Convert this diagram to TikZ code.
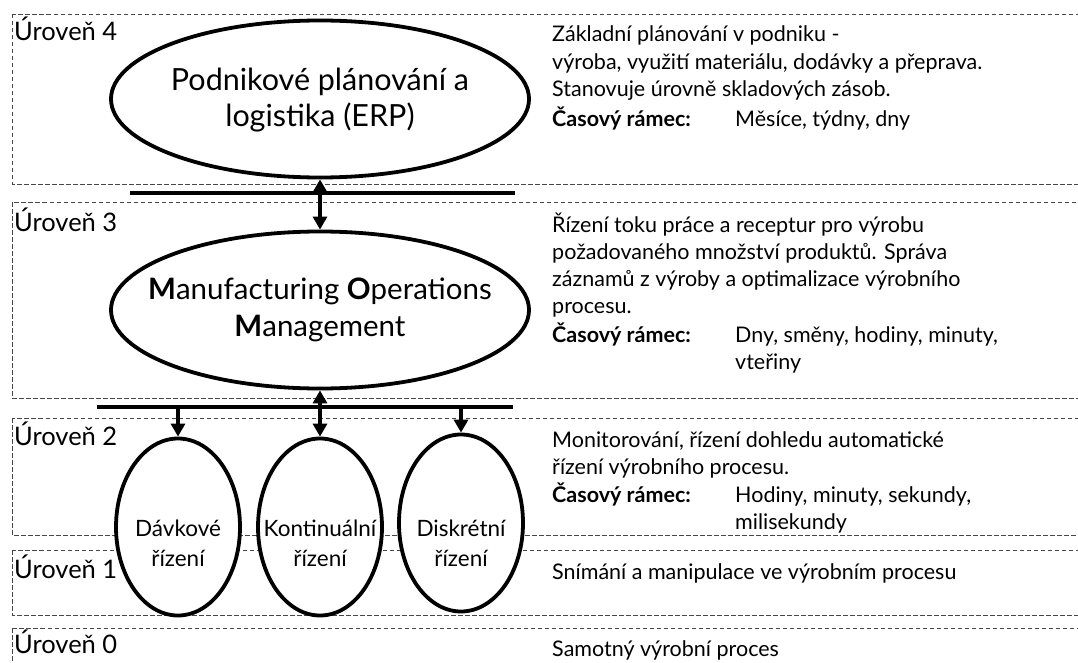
\documentclass[tikz,border=0pt]{standalone}
\usepackage{fontspec}
\setmainfont{Lato}
\usetikzlibrary{arrows.meta,shapes.geometric}
\begin{document}
\begin{tikzpicture}[x=1pt,y=-1pt,
  lvl/.style={draw=black!72, line width=0.9pt, dash pattern=on 4.5pt off 2.5pt},
  oval/.style={ellipse, draw=black, line width=3.8pt, fill=white, inner sep=0pt},
  bar/.style={line width=4.5pt},
  tip/.tip={Triangle[width=14pt,length=13pt]},
  arr/.style={line width=3.2pt, -tip},
  darr/.style={line width=3.2pt, tip-tip},
  lvllabel/.style={anchor=base west, inner sep=0pt, font=\fontsize{25.5}{30}\selectfont},
  bigtext/.style={anchor=base, inner sep=0pt, align=center, font=\fontsize{30.5}{36}\selectfont},
  momtext/.style={anchor=base, inner sep=0pt, align=center, font=\fontsize{29.5}{37}\selectfont},
  smalltext/.style={anchor=base, inner sep=0pt, align=center, font=\fontsize{22.5}{30}\selectfont},
  desc/.style={anchor=base west, inner sep=0pt, align=left, font=\fontsize{21.5}{27.3}\selectfont},
  key/.style={anchor=base west, inner sep=0pt, font=\fontsize{21.5}{27.3}\selectfont\bfseries},
]
\useasboundingbox (0,0) rectangle (1078,663);
\clip (0,0) rectangle (1078,663);

% level frames
\draw[lvl] (12,14) rectangle (1090,184);
\draw[lvl] (12,202) rectangle (1090,398);
\draw[lvl] (12,418) rectangle (1090,535);
\draw[lvl] (12,550) rectangle (1090,615);
\draw[lvl] (12,628) rectangle (1090,690);

% level labels
\node[lvllabel] (l4) at (14,41) {Úroveň 4};
\node[lvllabel] (l3) at (14,231) {Úroveň 3};
\node[lvllabel] (l2) at (14,445) {Úroveň 2};
\node[lvllabel] (l1) at (14,578) {Úroveň 1};
\node[lvllabel] (l0) at (14,653) {Úroveň 0};

% bus bars
\coordinate (b1w) at (130,193);
\coordinate (b1e) at (515,193);
\coordinate (b2w) at (97,407);
\coordinate (b2e) at (513,407);
\draw[bar] (b1w) -- (b1e);
\draw[bar] (b2w) -- (b2e);

% system ovals
\node[oval, minimum width=418pt, minimum height=157pt] (erp) at (320,99) {};
\node[oval, minimum width=418pt, minimum height=157pt] (mom) at (320,310) {};
\node[oval, minimum width=124pt, minimum height=177pt] (dav) at (178,527) {};
\node[oval, minimum width=124pt, minimum height=177pt] (kon) at (320,527) {};
\node[oval, minimum width=124pt, minimum height=177pt] (dis) at (461,523) {};

% oval captions (anchored at the baseline of their last line)
\node[bigtext] (erp-t) at (320,127) {Podnikové plánování a\\logistika (ERP)};
\node[momtext] (mom-t) at (320,336) {\textbf{M}anufacturing \textbf{O}perations\\\textbf{M}anagement};
\node[smalltext] (dav-t) at (178,566) {Dávkové\\řízení};
\node[smalltext] (kon-t) at (320,566) {Kontinuální\\řízení};
\node[smalltext] (dis-t) at (461,566) {Diskrétní\\řízení};

% connections
\draw[darr] (erp.south) -- (mom.north);
\draw[darr] (mom.south) -- (kon.north);
\draw[arr] (dav.north |- b2w) -- (dav.north);
\draw[arr] (dis.north |- b2w) -- (dis.north);

% descriptions
\node[desc] (d4) at (552,96.6) {Základní plánování v podniku -\\výroba, využití materiálu, dodávky a přeprava.\\Stanovuje úrovně skladových zásob.};
\node[key] (k4) at (552,127) {Časový rámec:};
\node[desc] (v4) at (735,127) {Měsíce, týdny, dny};

\node[desc] (d3) at (552,313.9) {Řízení toku práce a receptur pro výrobu\\požadovaného množství produktů. Správa\\záznamů z výroby a optimalizace výrobního\\procesu.};
\node[key] (k3) at (552,342) {Časový rámec:};
\node[desc] (v3) at (735,369.3) {Dny, směny, hodiny, minuty,\\vteřiny};

\node[desc] (d2) at (552,474.3) {Monitorování, řízení dohledu automatické\\řízení výrobního procesu.};
\node[key] (k2) at (552,502) {Časový rámec:};
\node[desc] (v2) at (735,529.3) {Hodiny, minuty, sekundy,\\milisekundy};

\node[desc] (d1) at (552,579) {Snímání a manipulace ve výrobním procesu};
\node[desc] (d0) at (552,656) {Samotný výrobní proces};
\end{tikzpicture}
\end{document}
